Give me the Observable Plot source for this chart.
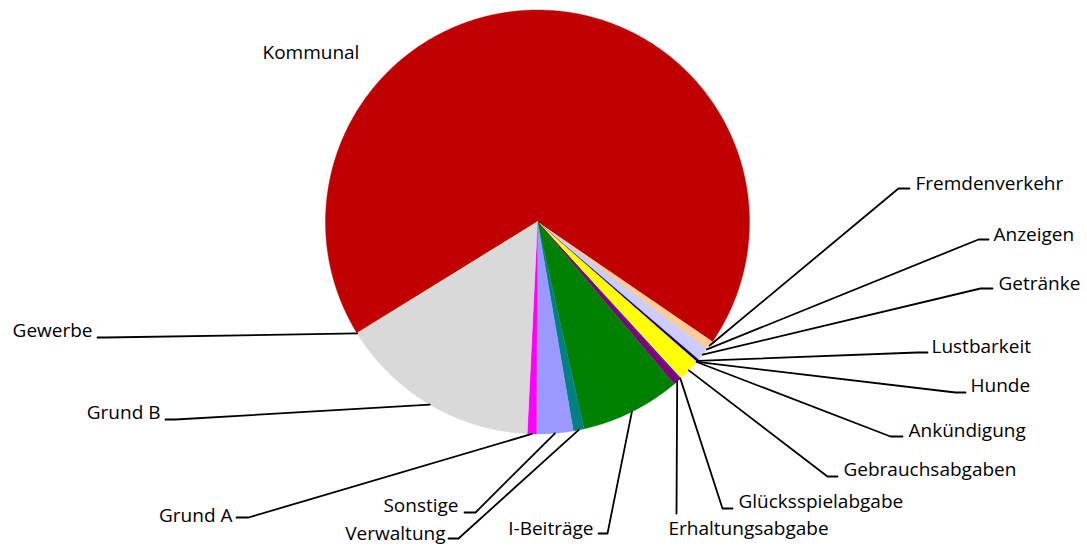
<!DOCTYPE html>
<html><head><meta charset="utf-8">
<script src="https://cdn.jsdelivr.net/npm/d3@7"></script>
<script src="https://cdn.jsdelivr.net/npm/@observablehq/plot@0.6"></script>
<style>body{margin:0;background:#fff;} svg{display:block;}</style>
</head><body><div id="chart"></div>
<script>
// ---- data (shares in %, clockwise order) ----
const categories = ["Kommunal","Fremdenverkehr","Anzeigen","Getränke","Lustbarkeit","Hunde","Ankündigung","Gebrauchsabgaben","Glücksspielabgabe","Erhaltungsabgabe","I-Beiträge","Verwaltung","Sonstige","Grund A","Grund B","Gewerbe"];
const shares = [68.4, 0.7, 0.01, 1.0, 0.2, 0.01, 0.01, 1.72, 0.06, 0.58, 7.64, 0.82, 2.79, 0.69, 15.42, 0.01];
const colors = ["#C00000","#FFCC99","#99CCFF","#CCCCFF","#000080","#FF99CC","#993366","#FFFF00","#0000FF","#800080","#008000","#008080","#9999FF","#FF00FF","#D9D9D9","#FFFFCC"];

// ---- layout (pixels) ----
const W = 1087, H = 547, CX = 537, CY = 221.5, R = 212, START = 238.3;
// label: text position, anchor, leader elbow and leader end (near the text)
const labelLayout = {
  "Kommunal":          {tx: 262, ty: 52,  anchor: "start", leader: null},
  "Fremdenverkehr":    {tx: 915, ty: 183, anchor: "start", leader: [[898,188],[909,188]]},
  "Anzeigen":          {tx: 993, ty: 234, anchor: "start", leader: [[978,239],[988,239]]},
  "Getränke":          {tx: 998, ty: 283, anchor: "start", leader: [[980,288],[992,288]]},
  "Lustbarkeit":       {tx: 931, ty: 346, anchor: "start", leader: [[917,352],[927,352]]},
  "Hunde":             {tx: 970, ty: 385, anchor: "start", leader: [[955,392],[965,392]]},
  "Ankündigung":       {tx: 908, ty: 430, anchor: "start", leader: [[890,436],[902,436]]},
  "Gebrauchsabgaben":  {tx: 843, ty: 469, anchor: "start", leader: [[827,476],[837,476]]},
  "Glücksspielabgabe": {tx: 738, ty: 501, anchor: "start", leader: [[722,508],[732,508]]},
  "Erhaltungsabgabe":  {tx: 668, ty: 528, anchor: "start", leader: [[676,513],[676,513]]},
  "I-Beiträge":        {tx: 593, ty: 528, anchor: "end",   leader: [[607,533],[598,533]]},
  "Verwaltung":        {tx: 445, ty: 533, anchor: "end",   leader: [[458,538],[448,538]]},
  "Sonstige":          {tx: 458, ty: 505, anchor: "end",   leader: [[475,512],[464,512]]},
  "Grund A":           {tx: 232, ty: 515, anchor: "end",   leader: [[248,517],[236,517]]},
  "Grund B":           {tx: 160, ty: 412, anchor: "end",   leader: [[175,419],[165,419]]},
  "Gewerbe":           {tx: 92,  ty: 330, anchor: "end",   leader: [[105,337],[97,337]]}
};

const total = d3.sum(shares);
let acc = START;
const slices = categories.map((name, i) => {
  const a0 = acc, a1 = acc + shares[i] / total * 360; acc = a1;
  return {name, color: colors[i], a0, a1, mid: (a0 + a1) / 2};
});
const pt = a => [CX + R * Math.sin(a * Math.PI / 180), CY - R * Math.cos(a * Math.PI / 180)];

const polyRows = [];
for (const s of slices) {
  polyRows.push({name: s.name, color: s.color, x: CX, y: CY});
  const n = Math.max(2, Math.ceil((s.a1 - s.a0) / 0.25));
  for (let k = 0; k <= n; k++) {
    const [x, y] = pt(s.a0 + (s.a1 - s.a0) * k / n);
    polyRows.push({name: s.name, color: s.color, x, y});
  }
}

const leaderRows = [];
const labelRows = [];
for (const s of slices) {
  const L = labelLayout[s.name];
  labelRows.push({name: s.name, x: L.tx, y: L.ty, anchor: L.anchor});
  if (L.leader) {
    const [mx, my] = pt(s.mid);
    leaderRows.push({name: s.name, x: mx, y: my});
    for (const [x, y] of L.leader) leaderRows.push({name: s.name, x, y});
  }
}

const chart = Plot.plot({
  width: W, height: H, margin: 0,
  x: {domain: [0, W], range: [0, W], axis: null},
  y: {domain: [0, H], range: [0, H], axis: null},
  color: {type: "identity"},
  style: {fontFamily: "'Open Sans', sans-serif", background: "#fff"},
  marks: [
    Plot.line(polyRows, {x: "x", y: "y", z: "name", fill: "color", stroke: "color", strokeWidth: 0.4, curve: "linear-closed"}),
    Plot.line(leaderRows, {x: "x", y: "y", z: "name", stroke: "#000", strokeWidth: 1.8}),
    Plot.text(labelRows.filter(d => d.anchor === "start"), {x: "x", y: "y", text: "name", textAnchor: "start", lineAnchor: "middle", fontSize: 19, fill: "#000"}),
    Plot.text(labelRows.filter(d => d.anchor === "end"), {x: "x", y: "y", text: "name", textAnchor: "end", lineAnchor: "middle", fontSize: 19, fill: "#000"})
  ]
});
document.getElementById("chart").appendChild(chart);
</script>
</body></html>
